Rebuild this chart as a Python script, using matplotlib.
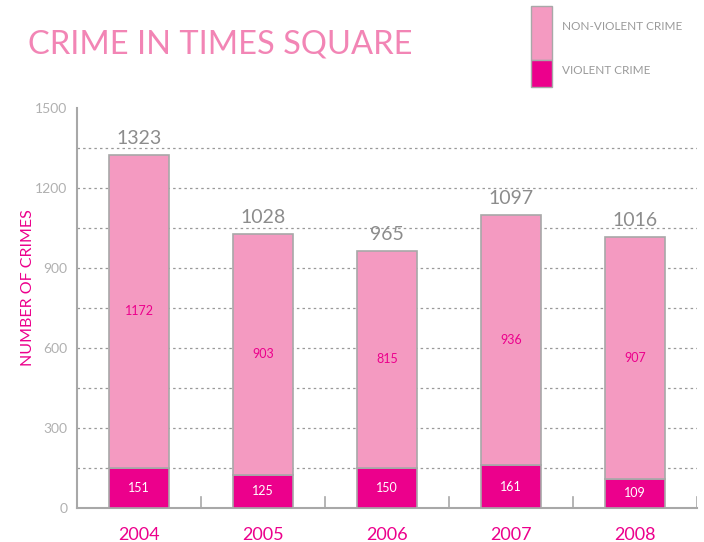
import matplotlib.pyplot as plt
import numpy as np
from matplotlib.patches import Rectangle

years = ['2004', '2005', '2006', '2007', '2008']
violent = [151, 125, 150, 161, 109]
non_violent = [1172, 903, 815, 936, 907]
totals = [1323, 1028, 965, 1097, 1016]

pink = '#F49AC1'
magenta = '#EC008C'
grey = '#9a9a9a'
edge = '#a8a8a8'

plt.rcParams['font.family'] = ['Lato', 'DejaVu Sans']

fig = plt.figure(figsize=(7.04, 5.42), dpi=100)
ax = fig.add_axes([77 / 704, 34 / 542, 620 / 704, 400 / 542])

x = np.arange(len(years))
w = 0.48
ax.bar(x, violent, w, color=magenta, edgecolor=edge, linewidth=1.2, zorder=3)
ax.bar(x, non_violent, w, bottom=violent, color=pink, edgecolor=edge, linewidth=1.2, zorder=3)

for i in range(len(years)):
    ax.text(x[i], violent[i] / 2, str(violent[i]), ha='center', va='center',
            color='white', fontsize=9, zorder=4)
    ax.text(x[i], violent[i] + non_violent[i] / 2, str(non_violent[i]), ha='center',
            va='center', color=magenta, fontsize=9, zorder=4)
    ax.text(x[i], totals[i] + 30, str(totals[i]), ha='center', va='bottom',
            color='#8c8c8c', fontsize=14)

ax.set_xlim(-0.5, 4.5)
ax.set_ylim(0, 1500)
ax.set_yticks(range(0, 1501, 300))
ax.set_yticklabels([str(v) for v in range(0, 1501, 300)], color='#b0b0b0', fontsize=10)
ax.tick_params(axis='y', length=0, pad=7)
for v in range(150, 1500, 150):
    ax.axhline(v, color='#999999', linestyle=(0, (2, 2.5)), linewidth=0.9, zorder=1)

ax.set_xticks(x)
ax.set_xticklabels(years, color=magenta, fontsize=13)
ax.tick_params(axis='x', length=0, pad=14)
for b in np.arange(0.5, 4.6, 1.0):
    ax.plot([b, b], [0, 40], color=edge, linewidth=1.2, zorder=2)

for s in ['top', 'right']:
    ax.spines[s].set_visible(False)
for s in ['left', 'bottom']:
    ax.spines[s].set_color(edge)
    ax.spines[s].set_linewidth(1.5)

ax.set_ylabel('NUMBER OF CRIMES', color=magenta, fontsize=11.5)
ax.yaxis.set_label_coords(-0.068, 0.55)

fig.text(28 / 704, 1 - 45 / 542, 'CRIME IN TIMES SQUARE', color='#F285B5',
         fontsize=23.5, va='center', ha='left')

fig.add_artist(Rectangle((531 / 704, 1 - 60 / 542), 21 / 704, 54 / 542,
                         transform=fig.transFigure, facecolor=pink, edgecolor=edge, linewidth=1))
fig.add_artist(Rectangle((531 / 704, 1 - 87 / 542), 21 / 704, 27 / 542,
                         transform=fig.transFigure, facecolor=magenta, edgecolor=edge, linewidth=1))
fig.text(562 / 704, 1 - 26 / 542, 'NON-VIOLENT CRIME', color=grey, fontsize=8.5, va='center')
fig.text(562 / 704, 1 - 71 / 542, 'VIOLENT CRIME', color=grey, fontsize=8.5, va='center')

fig.savefig('out.png', dpi=100)
